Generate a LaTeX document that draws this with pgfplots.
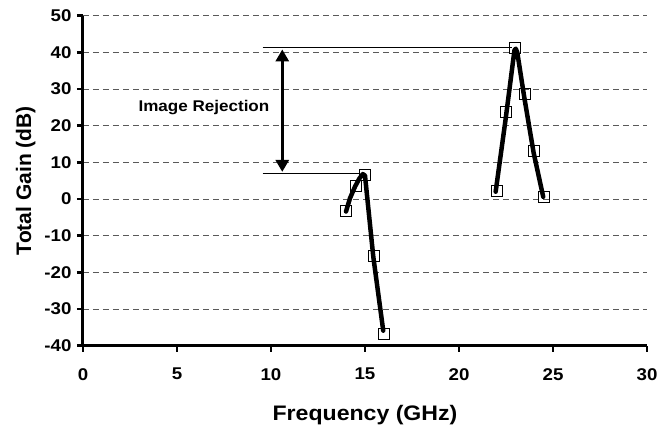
\documentclass[border=0pt]{standalone}
\usepackage{fontspec}
\setmainfont{Liberation Sans}
\newfontfamily\wide[FakeStretch=1.1]{Liberation Sans}
\usepackage{pgfplots}
\pgfplotsset{compat=1.18}
\usetikzlibrary{arrows.meta}

\begin{document}
\begin{tikzpicture}
  \path[use as bounding box] (-83pt,-80.3pt) rectangle (588pt,345.7pt);
  \begin{axis}[
      scale only axis,
      width=564pt, height=330pt,
      xmin=0, xmax=30, ymin=-40, ymax=50,
      xtick={0,5,...,30}, ytick={-40,-30,...,50},
      axis x line=bottom, axis y line=left,
      axis line style={-, line width=3pt},
      tick align=outside,
      major tick length=6pt,
      tick style={black, line width=2.5pt},
      ymajorgrids,
      grid style={dash pattern=on 6pt off 4pt, black!65, line width=0.8pt},
      /pgf/number format/assume math mode=true,
      ticklabel style={font=\wide\bfseries\fontsize{17}{20}\selectfont},
      xticklabel style={yshift=-13pt},
      yticklabel style={xshift=-2pt},
      xlabel={Frequency (GHz)},
      ylabel={Total Gain (dB)},
      xlabel style={font=\wide\bfseries\fontsize{21}{25}\selectfont, yshift=-18pt},
      ylabel style={font=\bfseries\fontsize{21}{25}\selectfont, yshift=2pt},
      clip=false,
    ]
    % fitted curves
    \addplot[black, line width=4.5pt, line join=round, line cap=round] coordinates {
      (13.99,-3.4) (14.2,0.2) (14.47,3.4) (14.7,5.6) (14.88,6.8) (15.0,6.4)
      (15.44,-15.7) (15.97,-35.9)
    };
    \addplot[black, line width=4.5pt, line join=round, line cap=round] coordinates {
      (21.95,2.0) (22.48,21.8) (22.95,40.6) (23.02,41.0) (23.1,40.0)
      (23.47,27.8) (23.97,12.6) (24.48,0.6)
    };
    % measured points
    \addplot[only marks, mark=square, mark size=5.5pt, mark options={black, line width=1pt}] coordinates {
      (14,-3.2) (14.5,3.6) (15,6.6) (15.5,-15.5) (16,-36.9)
    };
    \addplot[only marks, mark=square, mark size=5.5pt, mark options={black, line width=1pt}] coordinates {
      (22,2.2) (22.5,23.7) (23,41.1) (23.5,28.6) (24,13.2) (24.5,0.6)
    };
    % image rejection annotation
    \draw[black, line width=1pt] (axis cs:9.56,41.3) -- (axis cs:22.8,41.3);
    \draw[black, line width=1pt] (axis cs:9.56,7.0) -- (axis cs:14.73,7.0);
    \draw[line width=3pt, {Triangle[width=13pt,length=12pt]}-{Triangle[width=13pt,length=12pt]}]
      (axis cs:10.6,40.8) -- (axis cs:10.6,7.4);
    \node[anchor=east, font=\wide\bfseries\fontsize{15.5}{18}\selectfont] at (axis cs:10.1,24.9) {Image Rejection};
  \end{axis}
\end{tikzpicture}
\end{document}
